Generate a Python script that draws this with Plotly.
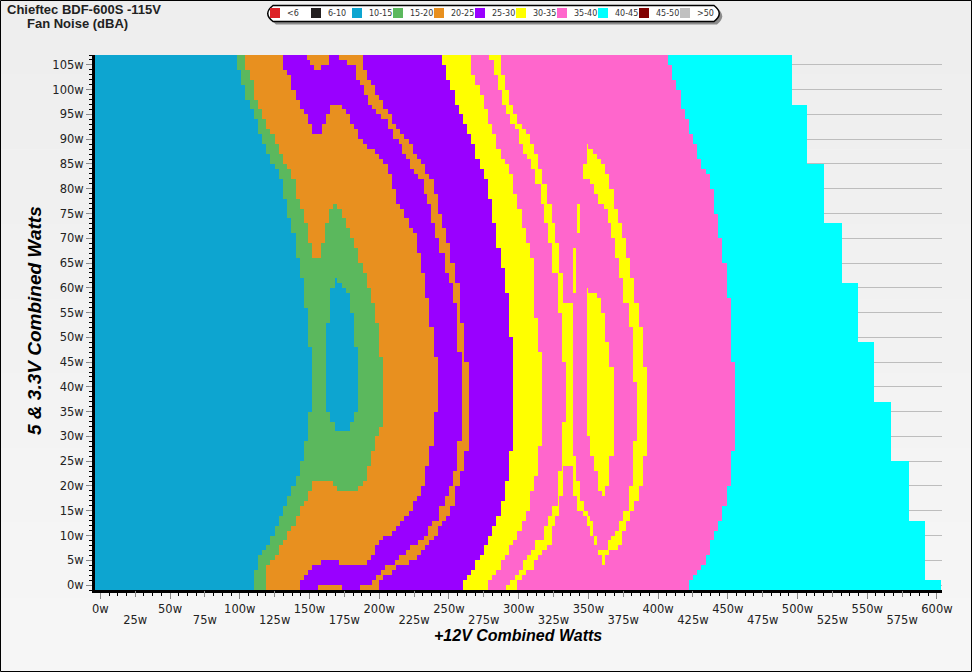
import numpy as np
import plotly.graph_objects as go

# bands of the legend
band_names = ['<6', '6-10', '10-15', '15-20', '20-25', '25-30', '30-35', '35-40', '40-45', '45-50', '>50']
band_colors = ['#dd2226', '#231f20', '#0da5d0', '#5bb85d', '#e8901f', '#9900ff', '#ffff00', '#ff66cc', '#00ffff', '#800000', '#c0c0c0']
BLUE, GREEN, ORANGE, PURPLE, YELLOW, PINK, CYAN = 2, 3, 4, 5, 6, 7, 8

x_ticks_top = list(range(0, 601, 50))
x_ticks_low = list(range(25, 601, 50))
y_ticks = list(range(0, 106, 5))

# stair edges, from top to bottom
# xx_y[i+1] <= row < xx_y[i] has watts xx_x[i]
green_y = [107, 104, 101, 98, 96, 94, 91, 89, 87, 85, 84, 82, 78, 74, 71, 66, 62, 56, 48, 35, 29, 25, 22, 20, 18, 16, 14, 12, 10, 8, 7, 6, 3, -1]
green_x = [98, 101, 104, 107, 110, 113, 116, 119, 122, 125, 128, 131, 134, 137, 140, 143, 146, 149, 152, 149, 146, 143, 140, 137, 134, 131, 128, 125, 122, 119, 116, 113, 110]

orange_y = [107, 104, 102, 98, 96, 94, 92, 91, 89, 87, 85, 84, 82, 78, 77, 76, 74, 72, 70, 68, 65, 63, 60, 57, 53, 46, 32, 30, 27, 24, 21, 20, 19, 17, 16, 14, 12, 11, 9, 8, 6, 5, 4, -1]
orange_x = [104, 107, 110, 113, 116, 119, 122, 125, 128, 131, 134, 137, 140, 143, 170, 173, 176, 179, 182, 185, 188, 191, 194, 197, 200, 203, 200, 197, 194, 191, 188, 185, 149, 146, 143, 140, 137, 134, 131, 128, 125, 122, 119]

purple_y = [107, 104, 103, 100, 98, 96, 95, 93, 91, 90, 89, 88, 87, 86, 85, 83, 80, 77, 76, 74, 72, 71, 67, 63, 58, 52, 46, 35, 28, 24, 20, 18, 17, 15, 14, 13, 12, 11, 10, 9, 8, 6, 5, 4, 3, 2, 1, -1]
purple_x = [131, 134, 137, 140, 143, 146, 149, 152, 185, 188, 191, 197, 200, 203, 206, 209, 212, 215, 218, 221, 224, 227, 230, 233, 236, 239, 242, 239, 236, 233, 230, 227, 224, 221, 218, 215, 212, 209, 203, 200, 197, 194, 191, 152, 149, 146, 143]

yellow_y = [107, 105, 102, 100, 97, 95, 93, 91, 89, 86, 84, 82, 78, 73, 68, 64, 59, 50, 27, 21, 17, 14, 12, 10, 8, 6, 5, 3, 2, 1, -1]
yellow_x = [245, 248, 251, 254, 257, 260, 263, 266, 269, 272, 275, 278, 281, 284, 287, 290, 293, 296, 293, 290, 287, 284, 281, 278, 275, 272, 269, 266, 263, 260]

pink_y = [107, 103, 101, 99, 96, 93, 91, 88, 86, 85, 83, 79, 76, 72, 69, 66, 54, 47, 28, 22, 19, 15, 13, 11, 9, 8, 6, 5, 3, 2, 1, -1]
pink_x = [266, 269, 272, 275, 278, 281, 284, 287, 290, 293, 296, 299, 302, 305, 308, 311, 314, 317, 314, 311, 308, 305, 302, 299, 296, 293, 290, 287, 284, 281, 278]

cyan_y = [107, 105, 102, 100, 96, 94, 91, 89, 86, 84, 83, 80, 75, 70, 65, 58, 45, 27, 20, 16, 13, 11, 9, 6, 4, 3, 2, 1, -1]
cyan_x = [407, 410, 413, 416, 419, 422, 425, 428, 431, 434, 437, 440, 443, 446, 449, 452, 455, 452, 449, 446, 443, 440, 437, 434, 431, 428, 425, 422]

end_y = [107, 97, 85, 73, 61, 49, 37, 25, 13, 1, -1]
end_x = [496, 507, 519, 532, 543, 555, 567, 580, 591, 603]

# islands: rows, left watts, right watts
notch_y = [107, 106, 105, 104]
notch_l = [148, 150, 153]
notch_r = [164, 164, 158]

hump_y = [97, 96, 95, 93, 92, 91]
hump_l = [165, 165, 162, 159, 159]
hump_r = [173, 176, 179, 182, 185]

wedge_y = [77, 76, 73, 69, 66]
wedge_l = [143, 146, 149, 152]
wedge_r = [167, 164, 161, 158]

foot_y = [21, 20, 19]
foot_l = [152, 152]
foot_r = [167, 170]

hole_y = [62, 61, 60, 59, 55, 53, 48, 35, 33, 31]
hole_l = [168, 168, 165, 165, 165, 162, 162, 165, 168]
hole_r = [170, 173, 176, 179, 182, 182, 185, 182, 179]

strip_y = [107, 106, 105, 104, 102, 101, 99, 98, 97, 96, 95, 94, 93, 92, 91, 90, 89, 87, 86, 85, 84, 83, 82, 79, 77, 75, 73, 72, 70, 69, 67, 65, 63, 61, 57, 53, 47, 45, 29, 27, 23, 20, 18, 16, 14, 13, 12, 10, 9, 8, 7, 6, 5, 4, 3, 2, 1, -1]
strip_l = [171, 177, 183, 183, 186, 189, 192, 192, 195, 198, 201, 206, 206, 210, 210, 214, 216, 219, 222, 222, 225, 228, 232, 234, 237, 237, 240, 240, 243, 243, 247, 247, 250, 253, 256, 256, 259, 259, 256, 256, 253, 250, 247, 243, 243, 238, 235, 232, 228, 222, 219, 214, 211, 204, 201, 198, 195]
strip_r = [188, 188, 188, 191, 194, 197, 200, 203, 203, 206, 209, 209, 212, 215, 218, 221, 224, 227, 230, 233, 233, 236, 239, 242, 242, 245, 245, 248, 248, 251, 251, 254, 254, 258, 258, 261, 261, 264, 264, 261, 258, 254, 254, 251, 248, 245, 242, 239, 236, 233, 230, 227, 221, 212, 209, 203, 200]

thin_y = [107, 106, 103, 100, 97, 95, 93, 92, 91, 89, 87, 86, 84, 81, 77, 73, 69, 63, 57, 55, 45, 33, 26, 24, 23, 18, 16, 14, 12, 10, 9, 8, 7, 6, 5, 3, 2, 1, 0, -1]
thin_l = [279, 282, 285, 288, 291, 294, 297, 300, 300, 303, 306, 309, 312, 316, 318, 321, 324, 328, 328, 331, 334, 331, 331, 331, 328, 328, 324, 321, 318, 318, 312, 312, 309, 306, 303, 300, 297, 294, 291]
thin_r = [287, 287, 290, 293, 296, 299, 302, 305, 308, 311, 314, 314, 317, 320, 324, 326, 329, 332, 339, 339, 339, 339, 341, 332, 332, 329, 329, 326, 324, 324, 324, 320, 317, 314, 311, 305, 302, 299, 299]

arm_y = [24, 21, 18, 17, 15, 14, 13, 12, 10, 8, 7, 6, 4]
arm_l = [339, 339, 342, 342, 346, 349, 349, 351, 354, 0, 357, 360]
arm_r = [341, 344, 344, 347, 350, 351, 353, 353, 356, 0, 365, 362]

arc_y = [89, 88, 87, 86, 85, 83, 82, 81, 80, 79, 77, 76, 73, 70, 66, 62, 57, 52, 44, 41, 29, 26, 20, 17, 15, 13, 11, 10, 9, 8, 7]
arc_l = [349, 349, 349, 349, 346, 346, 351, 354, 354, 357, 361, 364, 366, 369, 372, 375, 379, 382, 382, 385, 382, 382, 379, 379, 375, 372, 369, 366, 364, 364]
arc_r = [350, 353, 356, 359, 362, 365, 365, 365, 368, 368, 368, 371, 374, 377, 380, 383, 386, 389, 392, 392, 392, 389, 386, 383, 380, 377, 374, 374, 374, 371]

lens_y = [60, 59, 58, 57, 55, 49, 44, 30, 26, 23, 20, 19, 18]
lens_l = [349, 349, 349, 349, 349, 349, 349, 351, 354, 357, 357, 360]
lens_r = [350, 356, 359, 359, 362, 365, 368, 368, 365, 365, 362, 362]

rows = np.arange(-1, 107)
cols = np.arange(-4, 604)


def at(ys, xs, row):
    for i in range(len(xs)):
        if ys[i + 1] <= row < ys[i]:
            return xs[i]
    return None


z = np.full((len(rows), len(cols)), np.nan)


def paint(band, ys, ls, rs=None):
    for n, row in enumerate(rows):
        l = at(ys, ls, row)
        if l is None:
            continue
        r = 9999 if rs is None else at(ys, rs, row)
        z[n, (cols >= l) & (cols < r)] = band


z[:, :] = BLUE
paint(GREEN, green_y, green_x)
paint(ORANGE, orange_y, orange_x)
paint(PURPLE, purple_y, purple_x)
paint(YELLOW, yellow_y, yellow_x)
paint(PINK, pink_y, pink_x)
paint(CYAN, cyan_y, cyan_x)
# past the end of the measured area there is nothing
for n, row in enumerate(rows):
    z[n, cols >= at(end_y, end_x, row)] = np.nan

paint(ORANGE, notch_y, notch_l, notch_r)
paint(ORANGE, hump_y, hump_l, hump_r)
paint(ORANGE, wedge_y, wedge_l, wedge_r)
paint(ORANGE, foot_y, foot_l, foot_r)
paint(BLUE, hole_y, hole_l, hole_r)
paint(ORANGE, strip_y, strip_l, strip_r)
paint(PURPLE, [5, 4], [158], [171])
paint(ORANGE, [0, -1], [156], [173])
paint(ORANGE, [0, -1], [186], [200])
paint(YELLOW, thin_y, thin_l, thin_r)
paint(YELLOW, arm_y, arm_l, arm_r)
paint(YELLOW, arc_y, arc_l, arc_r)
paint(YELLOW, lens_y, lens_l, lens_r)
paint(YELLOW, [77, 71], [342], [344])
paint(YELLOW, [68, 59], [339], [341])

scale = []
for i, c in enumerate(band_colors):
    scale.append([i / 11, c])
    scale.append([(i + 1) / 11, c])

fig = go.Figure()
fig.add_trace(go.Heatmap(x=cols + 0.5, y=rows + 0.5, z=z.tolist(), zmin=0, zmax=11, colorscale=scale,
                         showscale=False, hoverinfo='skip'))
# second row of x labels
fig.add_trace(go.Scatter(x=[0], y=[0], xaxis='x2', mode='markers', marker=dict(opacity=0), hoverinfo='skip', showlegend=False))

W, H = 972, 672
L, R, T, B = 95, 942, 55, 590


def px(v):
    return (v - L) / (R - L)


def py(v):
    return (B - v) / (B - T)


tick_font = dict(family='DejaVu Sans', size=11.5, color='#222222')
x_range = [-3.8, 603.6]

shapes = []
# slight gradient of the window
for i in range(9):
    g = 238 + i
    shapes.append(dict(type='rect', xref='paper', yref='paper', layer='below', line_width=0,
                       x0=px(0), x1=px(W), y0=py(i * H / 9), y1=py((i + 1) * H / 9),
                       fillcolor='rgb(%d,%d,%d)' % (g, g, g)))
shapes.append(dict(type='rect', xref='paper', yref='paper', x0=px(0.5), x1=px(W - 0.5), y0=py(0.5), y1=py(H - 0.5),
                   line=dict(color='black', width=1)))


def pill(x0, x1, y0, y1, r):
    return 'M %f %f L %f %f Q %f %f %f %f L %f %f Q %f %f %f %f Z' % (
        px(x0 + r), py(y0), px(x1 - r), py(y0), px(x1 + r / 2), py((y0 + y1) / 2), px(x1 - r), py(y1),
        px(x0 + r), py(y1), px(x0 - r / 2), py((y0 + y1) / 2), px(x0 + r), py(y0))


shapes.append(dict(type='path', xref='paper', yref='paper', path=pill(269, 724, 8, 24.5, 7), fillcolor='#8c8c8c', line_width=0))
shapes.append(dict(type='path', xref='paper', yref='paper', path=pill(266, 721, 5.5, 21.5, 7), fillcolor='white',
                   line=dict(color='black', width=1.5)))

annotations = []
for i, (name, c) in enumerate(zip(band_names, band_colors)):
    sx = 270 + 41 * i
    shapes.append(dict(type='rect', xref='paper', yref='paper', x0=px(sx), x1=px(sx + 10), y0=py(8), y1=py(18),
                       fillcolor=c, line_width=0))
    annotations.append(dict(text=name, xref='paper', yref='paper', x=px(sx + 15), y=py(13.5),
                            showarrow=False, xanchor='left', yanchor='middle',
                            font=dict(family='DejaVu Sans', size=8, color='#333333')))

annotations.append(dict(text='<b>Chieftec BDF-600S -115V</b>', xref='paper', yref='paper', x=px(5), y=py(9), xanchor='left', yanchor='middle',
                        showarrow=False, font=dict(family='Liberation Sans', size=13, color='#222222')))
annotations.append(dict(text='<b>Fan Noise (dBA)</b>', xref='paper', yref='paper', x=px(25), y=py(24), xanchor='left', yanchor='middle',
                        showarrow=False, font=dict(family='Liberation Sans', size=13, color='#222222')))
annotations.append(dict(text='<b><i>+12V Combined Watts</i></b>', xref='paper', yref='paper', x=px(518), y=py(635), xanchor='center', yanchor='middle',
                        showarrow=False, font=dict(family='Liberation Sans', size=16, color='black')))
annotations.append(dict(text='<b><i>5 &amp; 3.3V Combined Watts</i></b>', xref='paper', yref='paper', x=px(34), y=py(321), xanchor='center', yanchor='middle',
                        textangle=-90, showarrow=False, font=dict(family='Liberation Sans', size=19, color='black')))

fig.update_layout(
    width=W, height=H,
    margin=dict(l=L, r=W - R, t=T, b=H - B),
    paper_bgcolor='#f2f2f2', plot_bgcolor='rgba(0,0,0,0)',
    showlegend=False, shapes=shapes, annotations=annotations,
    xaxis=dict(range=x_range, tickvals=x_ticks_top, ticktext=['%dw' % v for v in x_ticks_top], tickfont=tick_font,
               ticks='outside', ticklen=6, tickcolor='#888888', showgrid=False, zeroline=False,
               showline=True, linecolor='black', linewidth=3, tickangle=0,
               minor=dict(dtick=6.25, tick0=0, ticks='outside', ticklen=3, tickcolor='black', showgrid=False)),
    xaxis2=dict(range=x_range, overlaying='x', anchor='y', side='bottom', tickvals=x_ticks_low, ticktext=['%dw' % v for v in x_ticks_low],
                tickfont=tick_font, ticks='outside', ticklen=6, tickcolor='#888888', ticklabelstandoff=13,
                showgrid=False, zeroline=False, showline=False, tickangle=0),
    yaxis=dict(range=[-1, 107], tickvals=y_ticks, ticktext=['%dw' % v for v in y_ticks], tickfont=tick_font,
               ticks='outside', ticklen=6, tickcolor='#888888', showgrid=True, gridcolor='#bdbdbd', gridwidth=1, zeroline=False,
               showline=True, linecolor='black', linewidth=3,
               minor=dict(dtick=1, tick0=0, ticks='outside', ticklen=3, tickcolor='black', showgrid=False)),
)

fig.write_html("out.html", config={'displayModeBar': False}, post_script="document.body.style.margin='0';")
